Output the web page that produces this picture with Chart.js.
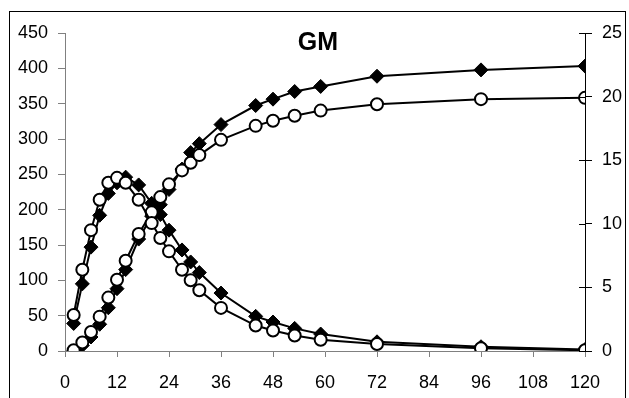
<!DOCTYPE html>
<html>
<head>
<meta charset="utf-8">
<script src="https://cdn.jsdelivr.net/npm/chart.js@4.4.1/dist/chart.umd.min.js"></script>
<style>
  html, body { margin: 0; padding: 0; background: #fff; }
  #wrap { position: relative; width: 629px; height: 398px; overflow: hidden; }
</style>
</head>
<body>
<div id="wrap"><canvas id="gmChart" width="629" height="398"></canvas></div>
<script>
// =====================
// Dados
// =====================
const horas = [2, 4, 6, 8, 10, 12, 14, 17, 20, 22, 24, 27, 29, 31, 36, 44, 48, 53, 59, 72, 96, 120];

// curvas com pico (eixo esquerdo, 0-450)
const picoDiamante = [39, 95, 147, 192, 223, 238, 246, 235, 209, 193, 171, 143, 126, 111, 82, 49, 41, 32, 24, 13, 6, 2];
const picoCirculo  = [51, 115, 171, 214, 238, 245, 238, 214, 181, 160, 141, 115, 100, 86, 61, 36, 29, 22, 16, 10, 4, 1];

// curvas acumuladas (eixo direito, 0-25)
const acumDiamante = [0, 0.44, 1.1, 2.1, 3.4, 4.9, 6.4, 8.8, 10.6, 11.5, 12.7, 14.3, 15.6, 16.3, 17.8, 19.3, 19.8, 20.4, 20.8, 21.6, 22.1, 22.4];
const acumCirculo  = [0.06, 0.67, 1.5, 2.7, 4.2, 5.6, 7.1, 9.2, 10.9, 12.1, 13.1, 14.2, 14.8, 15.4, 16.6, 17.7, 18.1, 18.5, 18.9, 19.4, 19.8, 19.9];

const xTicks = { min: 0, max: 120, step: 12 };
const yLeft = { min: 0, max: 450, step: 50 };
const yRight = { min: 0, max: 25, step: 5 };
const titulo = 'GM';

// =====================
// Helpers
// =====================
const fonte = "'Liberation Sans', Arial, sans-serif";
const pares = (ys) => horas.map((h, i) => ({ x: h, y: ys[i] }));

function serieCirculo(label, ys, eixo) {
  return {
    label, data: pares(ys), yAxisID: eixo,
    borderColor: '#000', borderWidth: 2,
    pointStyle: 'circle', pointRadius: 6, pointBorderWidth: 2,
    pointBackgroundColor: '#fff', pointBorderColor: '#000'
  };
}
function serieDiamante(label, ys, eixo) {
  return {
    label, data: pares(ys), yAxisID: eixo,
    borderColor: '#000', borderWidth: 2,
    pointStyle: 'rectRot', pointRadius: 7, pointBorderWidth: 1,
    pointBackgroundColor: '#000', pointBorderColor: '#000'
  };
}

// moldura, título e tracinhos internos do eixo direito
const molduraPlugin = {
  id: 'moldura',
  beforeDraw(chart) {
    const { ctx } = chart;
    ctx.save();
    ctx.fillStyle = '#fff';
    ctx.fillRect(0, 0, chart.width, chart.height);
    ctx.strokeStyle = '#000';
    ctx.lineWidth = 1;
    ctx.strokeRect(9.5, 11.5, 616, 400);
    ctx.restore();
  },
  afterDraw(chart) {
    const { ctx } = chart;
    const s = chart.scales.y1;
    ctx.save();
    ctx.strokeStyle = '#000';
    ctx.lineWidth = 1;
    s.ticks.forEach(t => {
      const py = Math.round(s.getPixelForValue(t.value)) + 0.5;
      ctx.beginPath();
      ctx.moveTo(s.left - 6, py);
      ctx.lineTo(s.left, py);
      ctx.stroke();
    });
    ctx.fillStyle = '#000';
    ctx.font = `bold 25px ${fonte}`;
    ctx.textAlign = 'center';
    ctx.textBaseline = 'middle';
    ctx.fillText(titulo, 318, 43);
    ctx.restore();
  }
};

// =====================
// Chart
// =====================
const ctx = document.getElementById('gmChart').getContext('2d');
new Chart(ctx, {
  type: 'line',
  data: {
    datasets: [
      serieCirculo('pico (o)', picoCirculo, 'y'),
      serieCirculo('acumulado (o)', acumCirculo, 'y1'),
      serieDiamante('pico (◆)', picoDiamante, 'y'),
      serieDiamante('acumulado (◆)', acumDiamante, 'y1')
    ]
  },
  options: {
    responsive: false,
    animation: false,
    layout: { padding: { top: 33, left: 0, right: 0, bottom: 0 } },
    plugins: { legend: { display: false }, tooltip: { enabled: false } },
    scales: {
      x: {
        type: 'linear', min: xTicks.min, max: xTicks.max,
        afterFit: (s) => { s.height = 47; },
        ticks: { stepSize: xTicks.step, color: '#000', padding: 15, font: { family: fonte, size: 18 } },
        grid: { drawOnChartArea: false, tickLength: 6, color: '#808080' },
        border: { color: '#808080', width: 1 }
      },
      y: {
        position: 'left', min: yLeft.min, max: yLeft.max,
        afterFit: (s) => { s.width = 65; },
        ticks: { stepSize: yLeft.step, color: '#000', padding: 10, font: { family: fonte, size: 18 } },
        grid: { drawOnChartArea: false, tickLength: 7, color: '#808080' },
        border: { color: '#808080', width: 1 }
      },
      y1: {
        position: 'right', min: yRight.min, max: yRight.max,
        afterFit: (s) => { s.width = 44; },
        ticks: { stepSize: yRight.step, color: '#000', padding: 10, font: { family: fonte, size: 18 } },
        grid: { drawOnChartArea: false, tickLength: 7, color: '#000' },
        border: { color: '#000', width: 1 }
      }
    }
  },
  plugins: [molduraPlugin]
});
</script>
</body>
</html>
